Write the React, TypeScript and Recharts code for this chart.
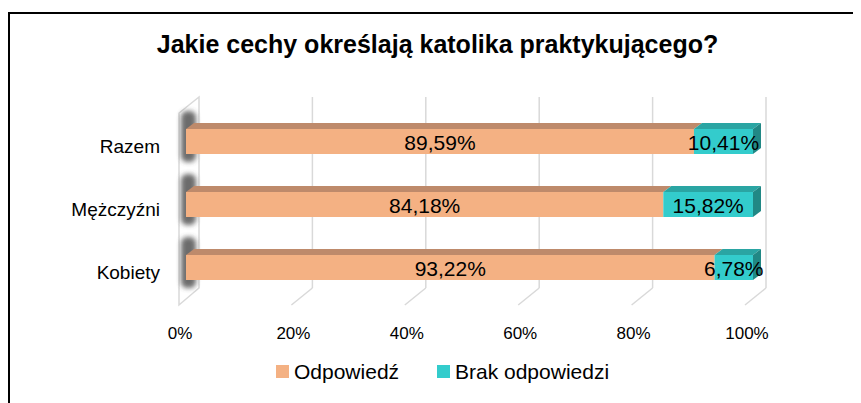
import React from "react";
import {
  BarChart,
  Bar,
  XAxis,
  YAxis,
  CartesianGrid,
  LabelList,
} from "recharts";

const categories = ["Razem", "Mężczyźni", "Kobiety"];
const odpowiedz = [89.59, 84.18, 93.22];
const brakOdpowiedzi = [10.41, 15.82, 6.78];
const xTicks = [0, 20, 40, 60, 80, 100];

const data = categories.map((name, i) => ({
  name,
  odp: odpowiedz[i],
  brak: brakOdpowiedzi[i],
}));

const FONT = "'Liberation Sans', Arial, sans-serif";
const ORANGE = "#F4B183";
const ORANGE_TOP = "#BE8A6B";
const TEAL = "#33CCCC";
const TEAL_TOP = "#2AA5A3";
const TEAL_SIDE = "#218885";
const DX = 8; // 3d depth offsets
const DY = 6;

const fmt = (v: number) => `${v.toFixed(2).replace(".", ",")}%`;

// back-wall gridline + floor diagonal, left wall for the first line
const gridLine = (p: any) => {
  const { x1, y1, y2, index } = p;
  const bx = x1 + 13;
  const top = y1 - 13;
  const bot = y2 - 11;
  if (index === 0) {
    return (
      <g key={`g${index}`}>
        <polygon
          points={`${x1 - 7},${y1 + 3} ${bx},${top} ${bx},${bot} ${x1 - 7},${y2 + 6}`}
          fill="#fff"
          stroke="#d9d9d9"
          strokeWidth={1.5}
        />
      </g>
    );
  }
  return (
    <g key={`g${index}`}>
      <line x1={bx} y1={top} x2={bx} y2={bot} stroke="#d9d9d9" strokeWidth={1.5} />
      <line x1={bx} y1={bot} x2={x1 - 8} y2={y2 + 6} stroke="#d9d9d9" strokeWidth={1.5} />
    </g>
  );
};

const OrangeShape = (p: any) => {
  const { x, y, width, height } = p;
  return (
    <g>
      <rect
        x={x - 5}
        y={y - 18}
        width={15}
        height={height + 26}
        rx={6}
        fill="#3a3a3a"
        opacity={0.75}
        filter="url(#wallShadow)"
      />
      <polygon
        points={`${x},${y} ${x + DX},${y - DY} ${x + width + DX},${y - DY} ${x + width},${y}`}
        fill={ORANGE_TOP}
      />
      <rect x={x} y={y} width={width} height={height} fill={ORANGE} />
    </g>
  );
};

const TealShape = (p: any) => {
  const { x, y, width, height } = p;
  return (
    <g>
      <polygon
        points={`${x},${y} ${x + DX},${y - DY} ${x + width + DX},${y - DY} ${x + width},${y}`}
        fill={TEAL_TOP}
      />
      <polygon
        points={`${x + width},${y} ${x + width + DX},${y - DY} ${x + width + DX},${y + height - DY} ${x + width},${y + height}`}
        fill={TEAL_SIDE}
      />
      <rect x={x} y={y} width={width} height={height} fill={TEAL} />
    </g>
  );
};

const ValueLabel = (p: any) => {
  const { x, y, width, height, value } = p;
  return (
    <text
      x={x + width / 2}
      y={y + height / 2 + 1}
      textAnchor="middle"
      dominantBaseline="central"
      fontSize={21}
      fontFamily={FONT}
      fill="#000"
    >
      {fmt(value)}
    </text>
  );
};

const XTick = (p: any) => (
  <text
    x={p.x - 6}
    y={p.y + 26}
    textAnchor="middle"
    dominantBaseline="central"
    fontSize={17}
    fontFamily={FONT}
    fill="#000"
  >
    {`${p.payload.value}%`}
  </text>
);

const YTick = (p: any) => (
  <text
    x={150}
    y={p.y + 5}
    textAnchor="end"
    dominantBaseline="central"
    fontSize={19}
    fontFamily={FONT}
    fill="#000"
  >
    {p.payload.value}
  </text>
);

const legendText: React.CSSProperties = {
  position: "absolute",
  top: 346,
  fontSize: 21,
  lineHeight: "24px",
  color: "#000",
  whiteSpace: "nowrap",
};

const legendBox: React.CSSProperties = {
  position: "absolute",
  top: 351,
  width: 13,
  height: 13,
};

export default function App() {
  return (
    <div
      style={{
        position: "relative",
        marginTop: 4,
        width: 851,
        height: 389,
        borderTop: "2px solid #000",
        borderLeft: "2px solid #000",
        fontFamily: FONT,
      }}
    >
      <div
        style={{
          position: "absolute",
          top: 16,
          left: 0,
          width: 855,
          textAlign: "center",
          fontWeight: "bold",
          fontSize: 25,
          color: "#000",
        }}
      >
        Jakie cechy określają katolika praktykującego?
      </div>
      <BarChart
        layout="vertical"
        width={851}
        height={389}
        data={data}
        margin={{ top: 96, right: 108, bottom: 64, left: 0 }}
        barSize={25}
      >
        <defs>
          <filter id="wallShadow" x="-200%" y="-50%" width="500%" height="200%">
            <feGaussianBlur stdDeviation="2.5" />
          </filter>
        </defs>
        <CartesianGrid horizontal={false} vertical={gridLine} />
        <XAxis
          type="number"
          domain={[0, 100]}
          ticks={xTicks}
          height={40}
          axisLine={false}
          tickLine={false}
          tick={<XTick />}
        />
        <YAxis
          type="category"
          dataKey="name"
          width={176}
          axisLine={false}
          tickLine={false}
          tick={<YTick />}
        />
        <Bar dataKey="odp" stackId="a" shape={<OrangeShape />} isAnimationActive={false}>
          <LabelList dataKey="odp" content={<ValueLabel />} />
        </Bar>
        <Bar dataKey="brak" stackId="a" shape={<TealShape />} isAnimationActive={false}>
          <LabelList dataKey="brak" content={<ValueLabel />} />
        </Bar>
      </BarChart>
      <span style={{ ...legendBox, left: 266, background: ORANGE }} />
      <span style={{ ...legendText, left: 284 }}>Odpowiedź</span>
      <span style={{ ...legendBox, left: 427, background: TEAL }} />
      <span style={{ ...legendText, left: 445 }}>Brak odpowiedzi</span>
    </div>
  );
}
